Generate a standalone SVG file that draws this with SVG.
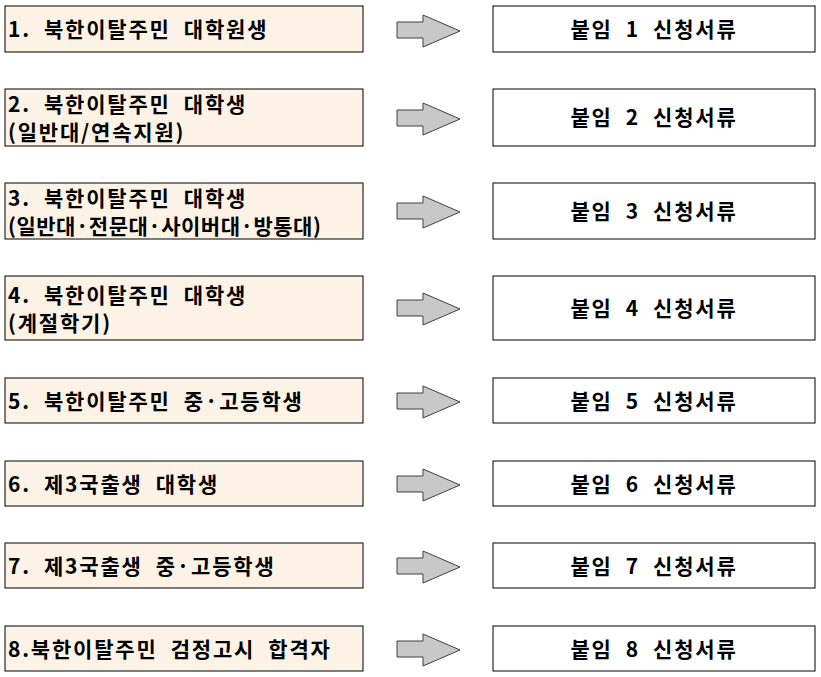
<svg xmlns="http://www.w3.org/2000/svg" width="821" height="677" viewBox="0 0 821 677">
<defs><style>
.l{fill:#fcf3e6;stroke:#000;stroke-width:1}
.r{fill:#fff;stroke:#000;stroke-width:1}
.t{font-family:"Noto Sans CJK KR","Noto Sans",sans-serif;font-weight:bold;font-size:21px;fill:#000;white-space:pre;letter-spacing:1.8px}
.a{fill:#c8c8c8;stroke:#404040;stroke-width:1}
</style></defs>
<rect width="821" height="677" fill="#fff"/>
<g id="connectors">
<path class="a" d="M397,22 H423 V15 L460,31 L423,47 V38 H397 Z"/>
<path class="a" d="M397,110 H423 V103 L460,119 L423,135 V126 H397 Z"/>
<path class="a" d="M397,203 H423 V196 L460,212 L423,228 V219 H397 Z"/>
<path class="a" d="M397,300 H423 V293 L460,309 L423,325 V316 H397 Z"/>
<path class="a" d="M397,393 H423 V386 L460,402 L423,418 V409 H397 Z"/>
<path class="a" d="M397,476 H423 V469 L460,485 L423,501 V492 H397 Z"/>
<path class="a" d="M397,558 H423 V551 L460,567 L423,583 V574 H397 Z"/>
<path class="a" d="M397,641 H423 V634 L460,650 L423,666 V657 H397 Z"/>
</g>
<g id="n1"><rect class="l" x="5" y="6" width="358" height="46"/><text class="t" x="8" y="37" xml:space="preserve">1.  북한이탈주민  대학원생</text></g>
<g id="n2"><rect class="l" x="5" y="89" width="358" height="57"/><text class="t" x="8" y="112" xml:space="preserve">2.  북한이탈주민  대학생</text><text class="t" x="8" y="140">(일반대/연속지원)</text></g>
<g id="n3"><rect class="l" x="5" y="183" width="358" height="56"/><text class="t" x="8" y="206" xml:space="preserve">3.  북한이탈주민  대학생</text><text class="t" x="8" y="234" style="letter-spacing:0.5px">(일반대·전문대·사이버대·방통대)</text></g>
<g id="n4"><rect class="l" x="5" y="276" width="358" height="64" fill="#fcf4dc"/><text class="t" x="8" y="303" xml:space="preserve">4.  북한이탈주민  대학생</text><text class="t" x="8" y="331">(계절학기)</text></g>
<g id="n5"><rect class="l" x="5" y="378" width="358" height="45"/><text class="t" x="8" y="409" xml:space="preserve">5.  북한이탈주민  중·고등학생</text></g>
<g id="n6"><rect class="l" x="5" y="461" width="358" height="45"/><text class="t" x="8" y="492" xml:space="preserve">6.  제3국출생  대학생</text></g>
<g id="n7"><rect class="l" x="5" y="543" width="358" height="45"/><text class="t" x="8" y="574" xml:space="preserve">7.  제3국출생  중·고등학생</text></g>
<g id="n8"><rect class="l" x="5" y="626" width="358" height="45"/><text class="t" x="8" y="657" xml:space="preserve">8.북한이탈주민  검정고시  합격자</text></g>
<g id="m1"><rect class="r" x="493" y="6" width="322" height="46"/><text class="t" x="654" y="37" text-anchor="middle" xml:space="preserve">붙임  1  신청서류</text></g>
<g id="m2"><rect class="r" x="493" y="89" width="322" height="57"/><text class="t" x="654" y="125" text-anchor="middle" xml:space="preserve">붙임  2  신청서류</text></g>
<g id="m3"><rect class="r" x="493" y="183" width="322" height="56"/><text class="t" x="654" y="219" text-anchor="middle" xml:space="preserve">붙임  3  신청서류</text></g>
<g id="m4"><rect class="r" x="493" y="276" width="322" height="64"/><text class="t" x="654" y="316" text-anchor="middle" xml:space="preserve">붙임  4  신청서류</text></g>
<g id="m5"><rect class="r" x="493" y="378" width="322" height="45"/><text class="t" x="654" y="409" text-anchor="middle" xml:space="preserve">붙임  5  신청서류</text></g>
<g id="m6"><rect class="r" x="493" y="461" width="322" height="45"/><text class="t" x="654" y="492" text-anchor="middle" xml:space="preserve">붙임  6  신청서류</text></g>
<g id="m7"><rect class="r" x="493" y="543" width="322" height="45"/><text class="t" x="654" y="574" text-anchor="middle" xml:space="preserve">붙임  7  신청서류</text></g>
<g id="m8"><rect class="r" x="493" y="626" width="322" height="45"/><text class="t" x="654" y="657" text-anchor="middle" xml:space="preserve">붙임  8  신청서류</text></g>
</svg>
